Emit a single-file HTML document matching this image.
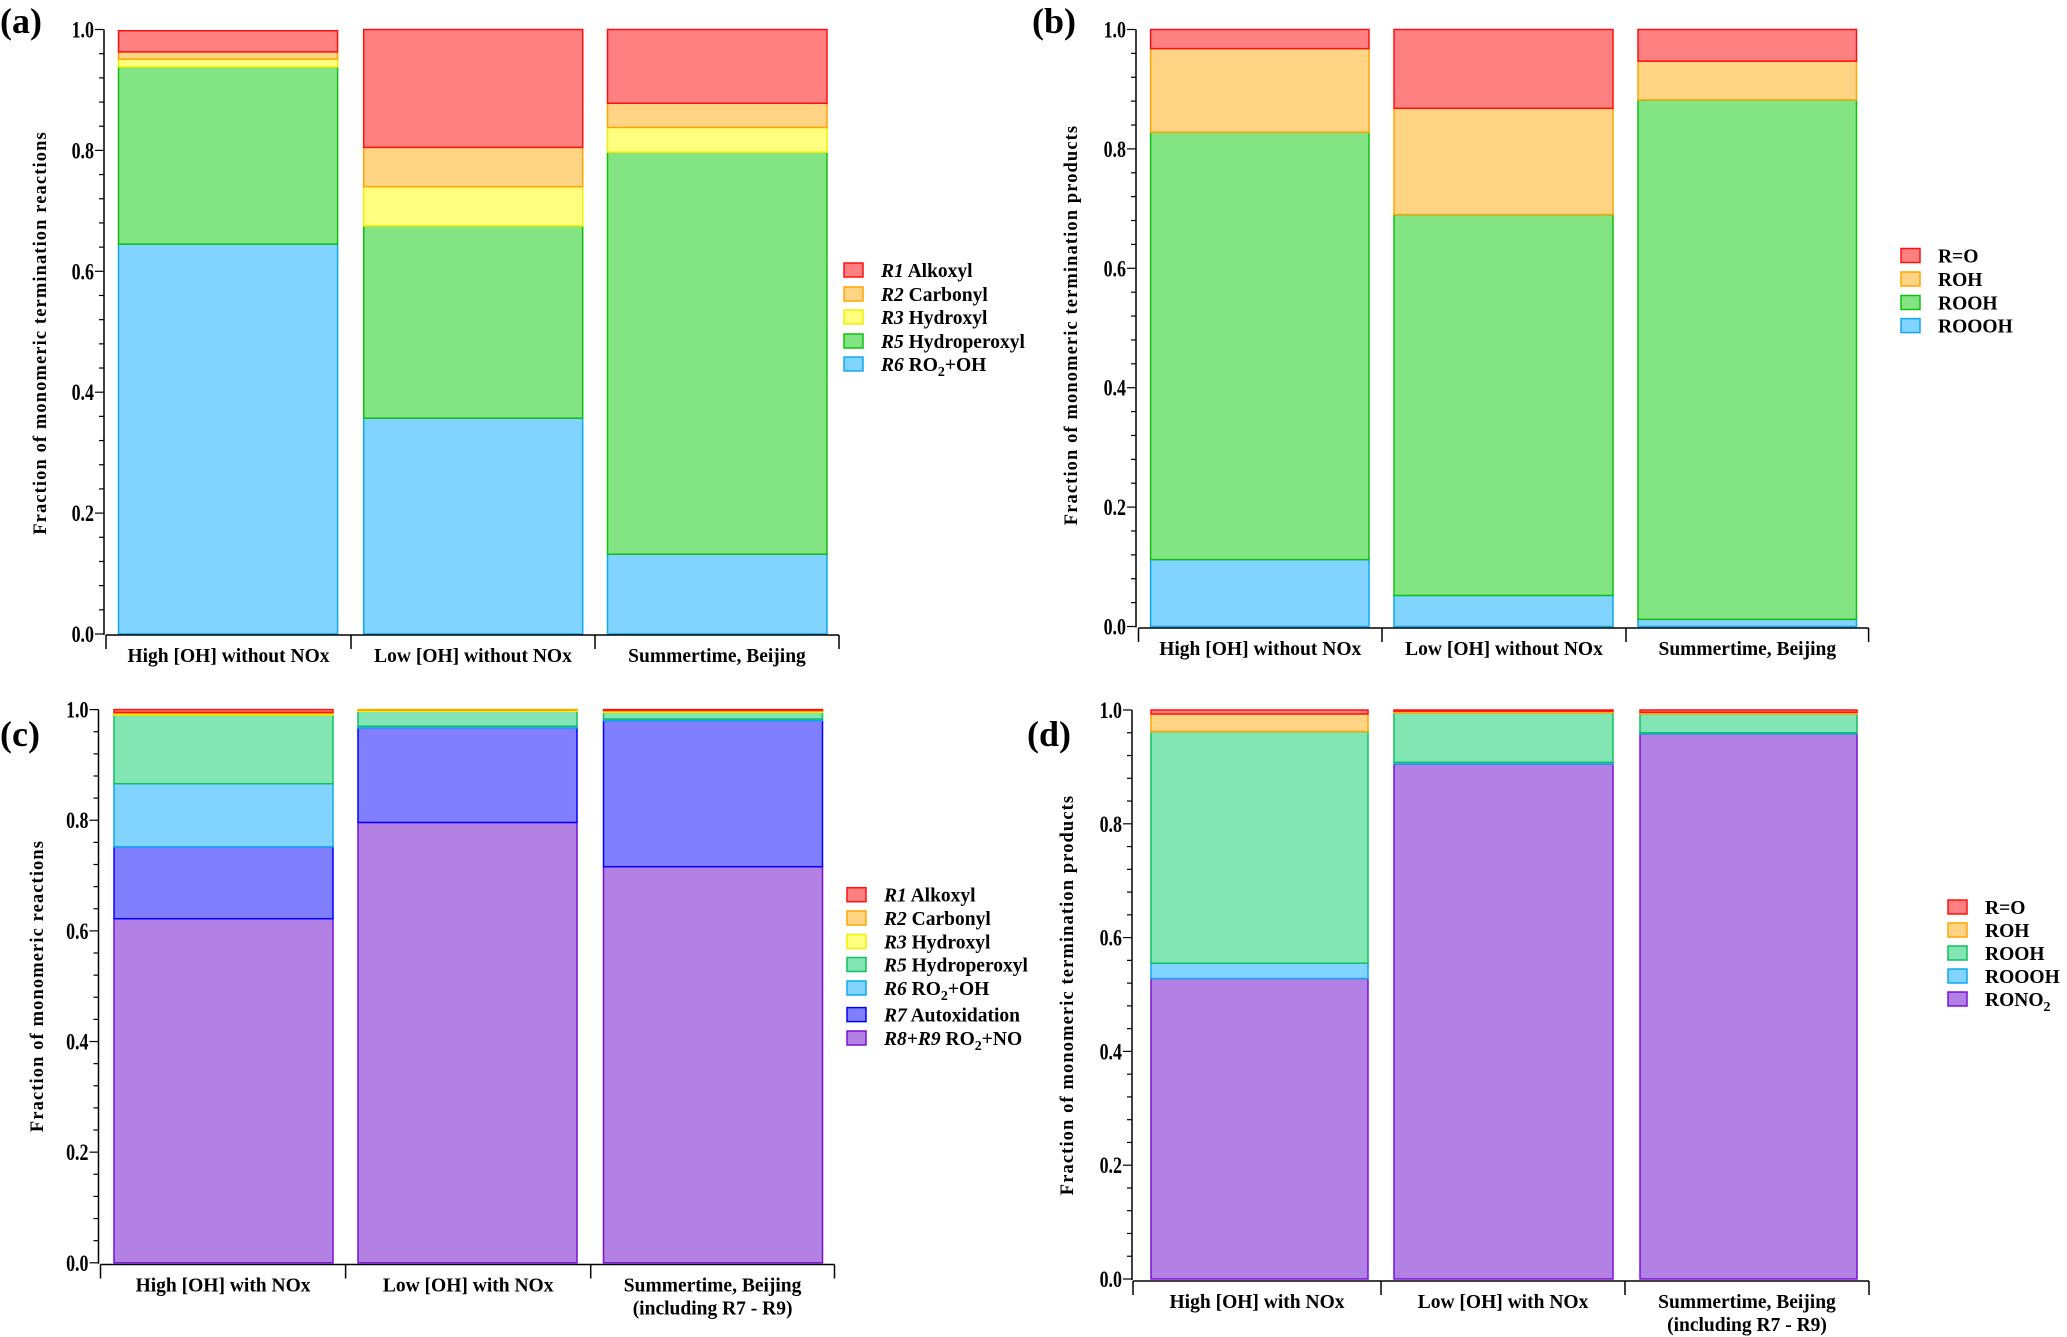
<!DOCTYPE html>
<html><head><meta charset="utf-8"><style>
html,body{margin:0;padding:0;background:#fff;}
svg{display:block;font-family:"Liberation Serif",serif;font-weight:bold;}
</style></head><body>
<svg id="fig" width="2067" height="1337" viewBox="0 0 2067 1337" xmlns="http://www.w3.org/2000/svg"></svg>
<script>
// ---- data ----
const catsA = ["High [OH] without NOx","Low [OH] without NOx","Summertime, Beijing"];
const seriesA = ["R1 Alkoxyl","R2 Carbonyl","R3 Hydroxyl","R5 Hydroperoxyl","R6 RO2+OH"];
const aR6 = [0.645,0.357,0.132];
const aR5 = [0.293,0.318,0.665];
const aR3 = [0.013,0.065,0.041];
const aR2 = [0.012,0.065,0.040];
const aR1 = [0.035,0.195,0.122];

const catsB = ["High [OH] without NOx","Low [OH] without NOx","Summertime, Beijing"];
const bROOOH = [0.112,0.052,0.012];
const bROOH = [0.716,0.638,0.870];
const bROH = [0.140,0.178,0.065];
const bRO = [0.032,0.132,0.053];

const catsC = ["High [OH] with NOx","Low [OH] with NOx","Summertime, Beijing|(including R7 - R9)"];
const cR89 = [0.622,0.796,0.716];
const cR7 = [0.130,0.171,0.264];
const cR6 = [0.114,0.003,0.003];
const cR5 = [0.124,0.027,0.012];
const cR3 = [0.003,0.002,0.002];
const cR2 = [0.002,0.001,0.002];
const cR1 = [0.005,0.000,0.001];

const catsD = ["High [OH] with NOx","Low [OH] with NOx","Summertime, Beijing|(including R7 - R9)"];
const dRONO2 = [0.528,0.905,0.958];
const dROOOH = [0.027,0.003,0.002];
const dROOH = [0.407,0.087,0.033];
const dROH = [0.031,0.003,0.003];
const dRO = [0.007,0.002,0.004];

const yTicks = ["0.0","0.2","0.4","0.6","0.8","1.0"];

const C = {
 red:["#ff8080","#ff1010"], orange:["#ffd485","#ffa500"], yellow:["#ffff80","#f0f000"],
 green:["#82e482","#10c010"], teal:["#82e6b4","#10c060"], lblue:["#80d4ff","#10a8f0"],
 blue:["#8080ff","#0000ff"], purple:["#b381e4","#7a10d8"]
};
const NS="http://www.w3.org/2000/svg";
const svg=document.getElementById('fig');
function mk(tag,attrs,parent){const e=document.createElementNS(NS,tag);for(const k in attrs)e.setAttribute(k,attrs[k]);(parent||svg).appendChild(e);return e;}

function addLabel(t, parts){
  parts.forEach(p=>{const s=document.createElementNS(NS,'tspan');
    if(p[1])s.setAttribute('font-style','italic');
    if(p[2]){s.setAttribute('font-size','14');s.setAttribute('dy','5');}
    if(p[3]){s.setAttribute('dy','-5');}
    s.textContent=p[0];t.appendChild(s);});
}

function panel(cfg){
  const g=mk('g',{});
  
  
  const y=v=>cfg.y0+(cfg.y1-cfg.y0)*v;
  cfg.bars.forEach((bx,i)=>{
    let acc=0;
    cfg.stack.forEach(s=>{
      const v=s.vals[i];
      const r=mk('rect',{x:bx[0],y:y(acc+v),width:bx[1]-bx[0],height:Math.max(0,y(acc)-y(acc+v)),fill:C[s.c][0],stroke:C[s.c][1],'stroke-width':1.5},g);
      
      
      acc+=v;
    });
  });
  const ax=mk('g',{},g);
  
  
  mk('line',{x1:cfg.ax,y1:y(0)+1,x2:cfg.ax,y2:y(1),stroke:'#000','stroke-width':1.5},ax);
  for(let k=0;k<=25;k++){const v=k*0.04; const major=(k%5===0);
    mk('line',{x1:cfg.ax-(major?9:5),y1:y(v),x2:cfg.ax,y2:y(v),stroke:'#000','stroke-width':1.2},ax);}
  yTicks.forEach((t,k)=>{const tx=mk('text',{x:cfg.ax-10,y:y(k*0.2)+8,'text-anchor':'end','font-size':23,transform:`translate(${cfg.ax-10} 0) scale(0.78 1) translate(${-(cfg.ax-10)} 0)`},ax);tx.textContent=t;
    });
  const xa=mk('g',{},g);
  
  
  mk('line',{x1:cfg.xt[0],y1:cfg.xy,x2:cfg.xt[3],y2:cfg.xy,stroke:'#000','stroke-width':1.5},xa);
  cfg.xt.forEach(t=>mk('line',{x1:t,y1:cfg.xy,x2:t,y2:cfg.xy+14,stroke:'#000','stroke-width':1.5},xa));
  cfg.cats.forEach((c,i)=>{const cx=(cfg.xt[i]+cfg.xt[i+1])/2;
    c.split('|').forEach((line,j)=>{const tx=mk('text',{x:cx,y:cfg.xy+27+j*23,'text-anchor':'middle','font-size':19.5},xa);tx.textContent=line;
      });});
  const yt=mk('text',{x:0,y:0,'text-anchor':'middle','font-size':18.5,'letter-spacing':'1.1',transform:`translate(${cfg.tx} ${cfg.ty}) rotate(-90)`},g);
  yt.textContent=cfg.title;
  
  const pl=mk('text',{x:cfg.lx,y:cfg.ly,'font-size':36},g);pl.textContent=cfg.letter;
  
  const lg=mk('g',{},g);
  
  cfg.legend.forEach((L,i)=>{const ry=cfg.legRows[i];
    const e=mk('g',{},lg);
    
    mk('rect',{x:cfg.legX,y:ry-7,width:19,height:14,fill:C[L.c][0],stroke:C[L.c][1],'stroke-width':1.5},e);
    const t=mk('text',{x:cfg.legTX,y:ry+7,'font-size':19.5},e);addLabel(t,L.parts);});
  return g;
}

panel({name:'panel-a',letter:'(a)',lx:0,ly:33,ax:104,y0:634,y1:29.5,xy:635,xt:[106,351,595,839],
 bars:[[118.5,337.6],[363.7,582.7],[607.5,827]],cats:catsA,title:'Fraction of monomeric termination reactions',tx:46,ty:333,
 stack:[{key:'r6',vals:aR6,c:'lblue'},{key:'r5',vals:aR5,c:'green'},{key:'r3',vals:aR3,c:'yellow'},{key:'r2',vals:aR2,c:'orange'},{key:'r1',vals:aR1,c:'red'}],
 legX:844,legTX:881,legRows:[270,294,317,341,364],
 legend:[{c:'red',parts:[["R1",1],[" Alkoxyl",0]]},{c:'orange',parts:[["R2",1],[" Carbonyl",0]]},{c:'yellow',parts:[["R3",1],[" Hydroxyl",0]]},{c:'green',parts:[["R5",1],[" Hydroperoxyl",0]]},{c:'lblue',parts:[["R6",1],[" RO",0],["2",0,1],["+OH",0,0,1]]}]});

panel({name:'panel-b',letter:'(b)',lx:1032,ly:33,ax:1136,y0:626.5,y1:29.5,xy:628,xt:[1138.5,1382,1626,1868.6],
 bars:[[1150.6,1369],[1394,1613],[1638,1856.5]],cats:catsB,title:'Fraction of monomeric termination products',tx:1077,ty:325,
 stack:[{key:'rooooh',vals:bROOOH,c:'lblue'},{key:'rooh',vals:bROOH,c:'green'},{key:'roh',vals:bROH,c:'orange'},{key:'ro',vals:bRO,c:'red'}],
 legX:1901,legTX:1938,legRows:[255.5,279,302.5,325.6],
 legend:[{c:'red',parts:[["R=O",0]]},{c:'orange',parts:[["ROH",0]]},{c:'green',parts:[["ROOH",0]]},{c:'lblue',parts:[["ROOOH",0]]}]});

panel({name:'panel-c',letter:'(c)',lx:0,ly:746,ax:98.5,y0:1262.8,y1:709.6,xy:1264.5,xt:[100.5,345.6,590.7,834.5],
 bars:[[114,333],[358,577],[603.5,822.5]],cats:catsC,title:'Fraction of monomeric reactions',tx:43,ty:986,
 stack:[{key:'r8r9',vals:cR89,c:'purple'},{key:'r7',vals:cR7,c:'blue'},{key:'r6',vals:cR6,c:'lblue'},{key:'r5',vals:cR5,c:'teal'},{key:'r3',vals:cR3,c:'yellow'},{key:'r2',vals:cR2,c:'orange'},{key:'r1',vals:cR1,c:'red'}],
 legX:847,legTX:884,legRows:[894.7,918,941.5,964.5,988,1014.6,1038],
 legend:[{c:'red',parts:[[" R1",1],[" Alkoxyl",0]]},{c:'orange',parts:[["R2",1],[" Carbonyl",0]]},{c:'yellow',parts:[["R3",1],[" Hydroxyl",0]]},{c:'teal',parts:[["R5",1],[" Hydroperoxyl",0]]},{c:'lblue',parts:[["R6",1],[" RO",0],["2",0,1],["+OH",0,0,1]]},{c:'blue',parts:[["R7",1],[" Autoxidation",0]]},{c:'purple',parts:[["R8+R9",1],[" RO",0],["2",0,1],["+NO",0,0,1]]}]});

panel({name:'panel-d',letter:'(d)',lx:1027,ly:746,ax:1132,y0:1279,y1:710,xy:1281,xt:[1133,1381,1625,1869],
 bars:[[1151,1368],[1394,1613],[1640,1857]],cats:catsD,title:'Fraction of monomeric termination products',tx:1073,ty:995,
 stack:[{key:'rono2',vals:dRONO2,c:'purple'},{key:'roooh',vals:dROOOH,c:'lblue'},{key:'rooh',vals:dROOH,c:'teal'},{key:'roh',vals:dROH,c:'orange'},{key:'ro',vals:dRO,c:'red'}],
 legX:1948,legTX:1985,legRows:[907,930,953,976,999],
 legend:[{c:'red',parts:[["R=O",0]]},{c:'orange',parts:[["ROH",0]]},{c:'teal',parts:[["ROOH",0]]},{c:'lblue',parts:[["ROOOH",0]]},{c:'purple',parts:[["RONO",0],["2",0,1]]}]});
</script>
</body></html>
